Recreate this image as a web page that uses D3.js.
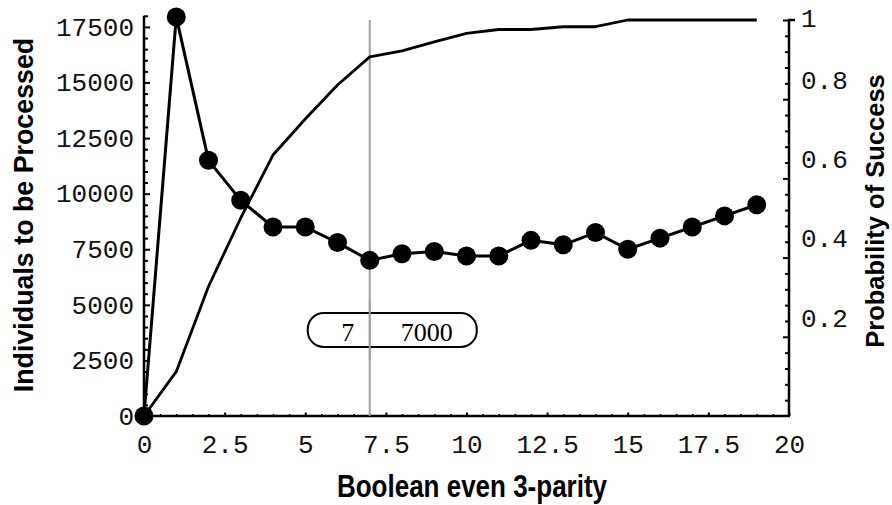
<!DOCTYPE html>
<html lang="en">

<head>
    <meta charset="UTF-8">
    <style>
        body { margin: 0; background: #fff; }
        .tick text { font-family: "Liberation Mono", "DejaVu Sans Mono", monospace; font-size: 26px; fill: #111; }
        .title { font-family: "Liberation Sans", Arial, sans-serif; font-weight: bold; font-size: 26px; fill: #000; }
    </style>
</head>

<body>
    <svg width="892" height="505"></svg>
    <script src="https://d3js.org/d3.v7.min.js"></script>
    <script>
        // generation number (x), individuals to be processed (left axis), probability of success (right axis)
        let generations = [0, 1, 2, 3, 4, 5, 6, 7, 8, 9, 10, 11, 12, 13, 14, 15, 16, 17, 18, 19]
        let individuals = [0, 17950, 11500, 9700, 8500, 8500, 7800, 7000, 7300, 7400, 7200, 7200, 7900, 7700, 8250, 7500, 8000, 8500, 9000, 9500]
        let probability = [0, 0.112, 0.327, 0.5, 0.659, 0.75, 0.836, 0.907, 0.922, 0.945, 0.966, 0.976, 0.976, 0.983, 0.983, 1, 1, 1, 1, 1]

        let xTicks = [0, 2.5, 5, 7.5, 10, 12.5, 15, 17.5, 20]
        let leftTicks = [0, 2500, 5000, 7500, 10000, 12500, 15000, 17500]
        let rightTicks = [0.2, 0.4, 0.6, 0.8, 1]

        let bestGen = 7
        let bestValue = 7000

        let svg = d3.select("svg")

        let x = d3.scaleLinear().domain([0, 20]).range([144, 789])
        let yL = d3.scaleLinear().domain([0, 18000]).range([416, 15.8])
        let yR = d3.scaleLinear().domain([0, 1]).range([416, 20])

        let minorX = d3.range(0, 20.01, 0.5).filter(v => xTicks.indexOf(v) < 0)
        let minorL = d3.range(0, 18001, 500).filter(v => leftTicks.indexOf(v) < 0)
        let minorR = d3.range(0.04, 1, 0.04).map(v => +v.toFixed(2)).filter(v => Math.abs(v * 5 - Math.round(v * 5)) > 1e-6)

        // frame lines
        svg.append("line").attr("x1", x(0)).attr("x2", x(0)).attr("y1", yL.range()[1]).attr("y2", 416)
            .attr("stroke", "#000").attr("stroke-width", 2.5)
        svg.append("line").attr("x1", x(0)).attr("x2", x(20) + 1).attr("y1", 416).attr("y2", 416)
            .attr("stroke", "#000").attr("stroke-width", 2.5)
        svg.append("line").attr("x1", x(20)).attr("x2", x(20)).attr("y1", yR(1)).attr("y2", 416)
            .attr("stroke", "#000").attr("stroke-width", 2.5)
        svg.append("line").attr("x1", x(20) - 1).attr("x2", x(20) + 6).attr("y1", yR(1)).attr("y2", yR(1))
            .attr("stroke", "#000").attr("stroke-width", 2.5)

        // bottom axis
        let gx = svg.append("g").attr("transform", "translate(0,416)")
            .call(d3.axisBottom(x).tickValues(xTicks).tickSizeInner(-3.5).tickSizeOuter(0)
                .tickFormat(d => d3.format("")(d)))
        gx.select(".domain").remove()
        gx.selectAll(".tick line").attr("stroke-width", 2)
        gx.selectAll(".tick text").attr("y", 28).attr("dy", "0.35em")
        let gxm = svg.append("g").attr("transform", "translate(0,416)")
            .call(d3.axisBottom(x).tickValues(minorX).tickSizeInner(-2).tickSizeOuter(0).tickFormat(""))
        gxm.select(".domain").remove()
        gxm.selectAll(".tick line").attr("stroke-width", 1.5)

        // left axis
        let gl = svg.append("g").attr("transform", "translate(144,0)")
            .call(d3.axisLeft(yL).tickValues(leftTicks).tickSizeInner(-6).tickSizeOuter(0).tickPadding(10)
                .tickFormat(d3.format("")))
        gl.select(".domain").remove()
        gl.selectAll(".tick line").attr("stroke-width", 2)
        let glm = svg.append("g").attr("transform", "translate(144,0)")
            .call(d3.axisLeft(yL).tickValues(minorL).tickSizeInner(-4).tickSizeOuter(0).tickFormat(""))
        glm.select(".domain").remove()
        glm.selectAll(".tick line").attr("stroke-width", 2)

        // right axis
        let gr = svg.append("g").attr("transform", "translate(789,0)")
            .call(d3.axisRight(yR).tickValues(rightTicks).tickSizeInner(-6).tickSizeOuter(0).tickPadding(12)
                .tickFormat(d => d3.format("")(d)))
        gr.select(".domain").remove()
        gr.selectAll(".tick line").attr("stroke-width", 2)
        gr.selectAll(".tick text").attr("y", d => d < 1 ? -19 : -2)
        let grm = svg.append("g").attr("transform", "translate(789,0)")
            .call(d3.axisRight(yR).tickValues(minorR).tickSizeInner(-4).tickSizeOuter(0).tickFormat(""))
        grm.select(".domain").remove()
        grm.selectAll(".tick line").attr("stroke-width", 2)

        // marker line at the best generation
        svg.append("line")
            .attr("x1", x(bestGen)).attr("x2", x(bestGen))
            .attr("y1", yR(1)).attr("y2", 416)
            .attr("stroke", "#a0a0a0").attr("stroke-width", 2)

        // probability of success curve
        let probLine = d3.line().x((d, i) => x(generations[i])).y(d => yR(d))
        svg.append("path")
            .attr("fill", "none").attr("stroke", "#000").attr("stroke-width", 2.8)
            .attr("stroke-linejoin", "round")
            .attr("d", probLine(probability))

        // individuals curve with points
        let indLine = d3.line().x((d, i) => x(generations[i])).y(d => yL(d))
        svg.append("path")
            .attr("fill", "none").attr("stroke", "#000").attr("stroke-width", 3)
            .attr("stroke-linejoin", "round")
            .attr("d", indLine(individuals))

        svg.selectAll("circle.pt")
            .data(individuals)
            .enter()
            .append("circle")
            .attr("class", "pt")
            .attr("cx", (d, i) => x(generations[i]))
            .attr("cy", d => yL(d))
            .attr("r", 9.5)
            .attr("fill", "#000")

        // callout box
        let box = svg.append("g")
        box.append("rect")
            .attr("x", x(bestGen) - 62).attr("y", 313)
            .attr("width", 169).attr("height", 34)
            .attr("rx", 16).attr("ry", 16)
            .attr("fill", "none").attr("stroke", "#000").attr("stroke-width", 2)
        box.append("text")
            .attr("x", x(bestGen) - 22).attr("y", 341)
            .attr("text-anchor", "middle")
            .style("font-family", "'Liberation Serif', 'Times New Roman', serif").style("font-size", "26px")
            .text(bestGen)
        box.append("text")
            .attr("x", x(bestGen) + 57).attr("y", 341)
            .attr("text-anchor", "middle")
            .style("font-family", "'Liberation Serif', 'Times New Roman', serif").style("font-size", "26px")
            .text(bestValue)
        // redraw marker over the box border
        svg.append("line")
            .attr("x1", x(bestGen)).attr("x2", x(bestGen))
            .attr("y1", 300).attr("y2", 360)
            .attr("stroke", "#a0a0a0").attr("stroke-width", 2)

        // axis titles
        svg.append("text").attr("class", "title")
            .attr("transform", "translate(472,497) scale(1,1.2)").attr("text-anchor", "middle")
            .text("Boolean even 3-parity")
        svg.append("text").attr("class", "title")
            .attr("transform", "translate(33,215) rotate(-90)").attr("text-anchor", "middle")
            .style("font-size", "26.8px")
            .text("Individuals to be Processed")
        svg.append("text").attr("class", "title")
            .attr("transform", "translate(884,211) rotate(-90)").attr("text-anchor", "middle")
            .style("font-size", "25.5px")
            .text("Probability of Success")
    </script>
</body>

</html>
